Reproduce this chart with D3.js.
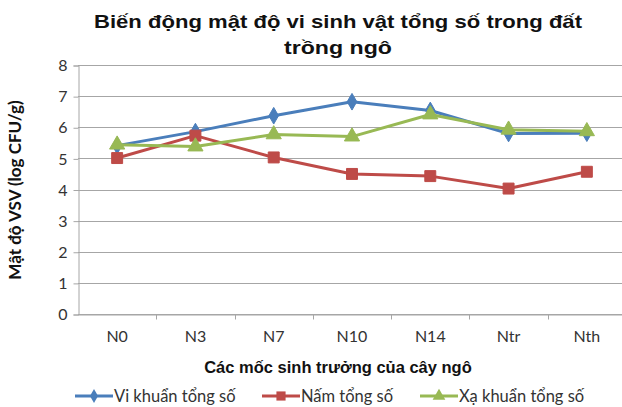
<!DOCTYPE html>
<html>
<head>
<meta charset="utf-8">
<script src="https://cdn.jsdelivr.net/npm/d3@7"></script>
<style>
body { margin: 0; background: #fff; }
svg { display: block; }
</style>
</head>
<body>
<svg id="chart" width="622" height="407"></svg>
<script>
// data
var stages = ["N0", "N3", "N7", "N10", "N14", "Ntr", "Nth"];
var viKhuan = [5.41, 5.86, 6.37, 6.82, 6.54, 5.80, 5.81];
var nam = [5.01, 5.73, 5.03, 4.50, 4.43, 4.03, 4.57];
var xaKhuan = [5.44, 5.38, 5.77, 5.70, 6.41, 5.92, 5.87];
var yTicks = [0, 1, 2, 3, 4, 5, 6, 7, 8];
var seriesNames = ["Vi khuẩn tổng số", "Nấm tổng số", "Xạ khuẩn tổng số"];

var colors = ["#4a7ebb", "#be4b48", "#98b954"];
var shapes = [d3.symbolDiamond, d3.symbolSquare, d3.symbolTriangle];
var sizes = [80, 120, 100];

var svg = d3.select("#chart");
var plotLeft = 78, plotRight = 626, plotTop = 65, plotBottom = 314;

var x = d3.scaleBand()
    .domain(stages)
    .range([plotLeft, plotRight]);
var y = d3.scaleLinear()
    .domain([0, 8])
    .range([plotBottom, plotTop]);

// GRID
svg.append("g")
    .selectAll("line")
    .data(yTicks)
    .enter().append("line")
    .attr("x1", plotLeft).attr("x2", plotRight)
    .attr("y1", function(d) { return Math.round(y(d)) + 0.5; })
    .attr("y2", function(d) { return Math.round(y(d)) + 0.5; })
    .attr("stroke", "#a6a6a6")
    .attr("stroke-width", 1);

// Y AXIS
var yAxis = svg.append("g")
    .attr("transform", "translate(" + (plotLeft + 0.5) + ",0.5)")
    .call(d3.axisLeft(y).tickValues(yTicks).tickSize(5).tickPadding(6));
yAxis.select(".domain").attr("stroke", "#a6a6a6");
yAxis.selectAll(".tick line").attr("stroke", "#a6a6a6");
yAxis.selectAll("text")
    .attr("fill", "#333")
    .style("font-family", "Lato, 'Open Sans', sans-serif")
    .style("font-size", "16px");

// X AXIS
var xAxis = svg.append("g")
    .attr("transform", "translate(0," + (plotBottom + 0.5) + ")")
    .call(d3.axisBottom(x).tickSize(0).tickPadding(16));
xAxis.select(".domain").attr("stroke", "#a6a6a6");
xAxis.selectAll("text")
    .attr("fill", "#333")
    .style("font-family", "Lato, 'Open Sans', sans-serif")
    .style("font-size", "16px");
xAxis.selectAll(".bnd")
    .data(stages.slice(1))
    .enter().append("line")
    .attr("class", "bnd")
    .attr("x1", function(d) { return Math.round(x(d)) + 0.5; })
    .attr("x2", function(d) { return Math.round(x(d)) + 0.5; })
    .attr("y1", 0).attr("y2", 5)
    .attr("stroke", "#a6a6a6");

// SERIES
var allSeries = [viKhuan, nam, xaKhuan];
var line = d3.line()
    .x(function(d, i) { return x(stages[i]) + x.bandwidth() / 2; })
    .y(function(d) { return y(d); });

allSeries.forEach(function(vals, s) {
    svg.append("path")
	.datum(vals)
	.attr("d", line)
	.attr("fill", "none")
	.attr("stroke", colors[s])
	.attr("stroke-width", 3)
	.attr("stroke-linejoin", "round");
    svg.append("g")
	.selectAll("path")
	.data(vals)
	.enter().append("path")
	.attr("d", d3.symbol().type(shapes[s]).size(sizes[s]))
	.attr("transform", function(d, i) {
	    return "translate(" + (x(stages[i]) + x.bandwidth() / 2) + "," + y(d) + ")";
	})
	.attr("fill", colors[s])
	.attr("stroke", colors[s])
	.attr("stroke-width", 1);
});

// TITLES
svg.append("text")
    .attr("x", 338).attr("y", 28)
    .attr("text-anchor", "middle")
    .attr("textLength", 488)
    .attr("lengthAdjust", "spacingAndGlyphs")
    .style("font-family", "'Liberation Sans', Arial, sans-serif")
    .style("font-weight", "bold")
    .style("font-size", "19px")
    .attr("fill", "#111")
    .text("Biến động mật độ vi sinh vật tổng số trong đất");
svg.append("text")
    .attr("x", 338).attr("y", 54)
    .attr("text-anchor", "middle")
    .attr("textLength", 108)
    .attr("lengthAdjust", "spacingAndGlyphs")
    .style("font-family", "'Liberation Sans', Arial, sans-serif")
    .style("font-weight", "bold")
    .style("font-size", "19px")
    .attr("fill", "#111")
    .text("trồng ngô");

svg.append("text")
    .attr("transform", "translate(21,190) rotate(-90)")
    .attr("text-anchor", "middle")
    .style("font-family", "Lato, 'Open Sans', sans-serif")
    .style("font-weight", "bold")
    .style("font-size", "17px")
    .attr("fill", "#111")
    .text("Mật độ VSV (log CFU/g)");

svg.append("text")
    .attr("x", 338).attr("y", 373)
    .attr("text-anchor", "middle")
    .style("font-family", "'Liberation Sans', Arial, sans-serif")
    .style("font-weight", "bold")
    .style("font-size", "16.5px")
    .attr("fill", "#111")
    .text("Các mốc sinh trưởng của cây ngô");

// LEGEND
var legendX = [75, 262, 420];
var legend = svg.append("g");
seriesNames.forEach(function(name, s) {
    var g = legend.append("g")
	.attr("transform", "translate(" + legendX[s] + ",396)");
    g.append("line")
	.attr("x1", 0).attr("x2", 38)
	.attr("stroke", colors[s])
	.attr("stroke-width", 3);
    g.append("path")
	.attr("d", d3.symbol().type(shapes[s]).size(sizes[s] * 0.7))
	.attr("transform", "translate(19,0)")
	.attr("fill", colors[s]);
    g.append("text")
	.attr("x", 39).attr("y", 6)
	.style("font-family", "Lato, 'Open Sans', sans-serif")
	.style("font-size", "16.5px")
	.attr("fill", "#333")
	.text(name);
});
</script>
</body>
</html>
